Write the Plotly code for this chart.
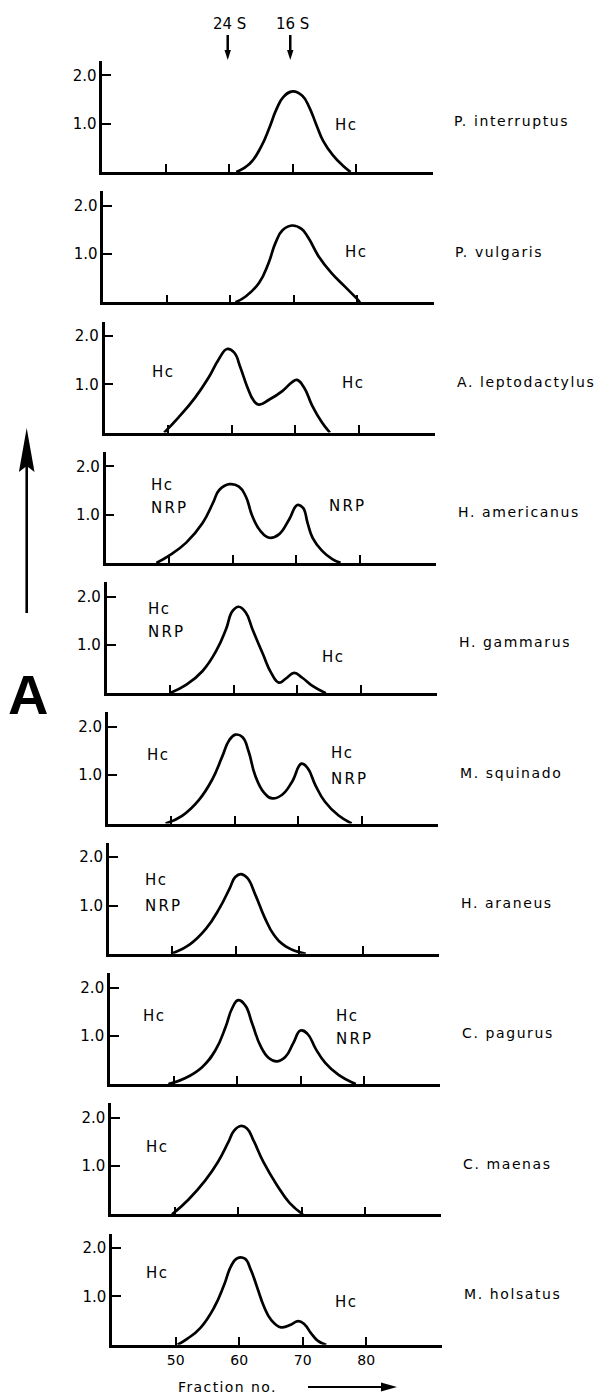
import plotly.graph_objects as go

# ---------------- data ----------------
species = ["P. interruptus", "P. vulgaris", "A. leptodactylus", "H. americanus",
           "H. gammarus", "M. squinado", "H. araneus", "C. pagurus",
           "C. maenas", "M. holsatus"]

frac_p_interruptus = [61.1, 63.2, 65.0, 66.3, 67.4, 68.5, 70.0, 71.5, 72.6, 73.7, 74.8, 76.3, 77.9, 79.1]
abs_p_interruptus = [0, 0.17, 0.52, 0.91, 1.29, 1.55, 1.67, 1.58, 1.34, 0.98, 0.64, 0.35, 0.13, 0]

frac_p_vulgaris = [60.8, 62.4, 64.5, 66.0, 67.1, 68.2, 69.7, 71.2, 72.3, 73.9, 75.9, 78.0, 79.8, 80.4]
abs_p_vulgaris = [0, 0.12, 0.40, 0.81, 1.23, 1.49, 1.59, 1.52, 1.33, 0.95, 0.61, 0.33, 0.09, 0]

frac_a_leptodactylus = [49.4, 51.7, 54.3, 56.4, 58.0, 59.3, 60.4, 61.4, 62.5, 63.5, 64.3, 65.9, 68.0,
                        69.5, 70.3, 71.4, 72.7, 74.2, 75.5]
abs_a_leptodactylus = [0, 0.32, 0.73, 1.14, 1.52, 1.73, 1.66, 1.35, 0.94, 0.66, 0.58, 0.68, 0.86,
                       1.04, 1.09, 0.94, 0.56, 0.22, 0]

frac_h_americanus = [48.0, 50.0, 52.7, 55.3, 56.9, 57.9, 59.5, 61.0, 62.1, 63.1, 64.4, 65.8, 67.3,
                     68.9, 70.2, 71.1, 71.8, 72.6, 74.1, 75.7, 77.0]
abs_h_americanus = [0, 0.15, 0.42, 0.83, 1.24, 1.51, 1.63, 1.58, 1.37, 0.97, 0.66, 0.52, 0.59,
                    0.90, 1.20, 1.14, 0.83, 0.52, 0.25, 0.08, 0]

frac_h_gammarus = [49.9, 52.5, 55.1, 57.3, 58.8, 59.8, 60.8, 61.9, 63.0, 64.6, 65.9, 67.1, 68.2,
                   69.5, 70.8, 72.4, 74.5]
abs_h_gammarus = [0, 0.17, 0.46, 0.89, 1.33, 1.70, 1.79, 1.67, 1.31, 0.81, 0.42, 0.22, 0.30,
                  0.42, 0.32, 0.15, 0]

frac_m_squinado = [49.1, 51.7, 54.3, 56.4, 58.0, 59.1, 60.1, 61.2, 62.2, 63.2, 64.6, 65.9, 67.4,
                   69.0, 70.5, 71.5, 72.7, 74.2, 76.3, 78.4]
abs_m_squinado = [0, 0.16, 0.48, 0.90, 1.38, 1.72, 1.84, 1.79, 1.48, 1.00, 0.64, 0.52, 0.59,
                  0.86, 1.24, 1.14, 0.79, 0.45, 0.17, 0]

frac_h_araneus = [49.8, 52.7, 55.3, 57.4, 59.0, 59.9, 60.8, 61.8, 63.1, 64.5, 66.0, 67.9, 71.0]
abs_h_araneus = [0, 0.19, 0.52, 0.94, 1.35, 1.59, 1.65, 1.57, 1.21, 0.76, 0.39, 0.15, 0]

frac_c_pagurus = [49.2, 51.8, 54.5, 56.6, 58.2, 59.2, 60.2, 61.3, 62.4, 63.7, 65.0, 66.2, 67.6,
                  68.9, 70.0, 71.1, 72.4, 73.9, 76.0, 78.7]
abs_c_pagurus = [0, 0.12, 0.35, 0.70, 1.18, 1.56, 1.74, 1.63, 1.25, 0.79, 0.54, 0.47, 0.56,
                 0.86, 1.11, 1.04, 0.73, 0.44, 0.19, 0]

frac_c_maenas = [49.6, 52.2, 54.8, 56.8, 58.4, 59.4, 60.4, 61.4, 62.5, 64.0, 66.1, 68.1, 70.2]
abs_c_maenas = [0, 0.31, 0.70, 1.08, 1.48, 1.74, 1.83, 1.78, 1.51, 1.08, 0.61, 0.24, 0]

frac_m_holsatus = [50.3, 51.8, 53.9, 56.05, 57.6, 58.7, 59.7, 60.9, 61.8, 62.9, 63.9, 65.0, 66.6,
                   68.2, 69.3, 70.3, 71.3, 72.4, 73.7]
abs_m_holsatus = [0, 0.12, 0.35, 0.77, 1.23, 1.62, 1.79, 1.78, 1.56, 1.16, 0.79, 0.52, 0.36,
                  0.42, 0.49, 0.42, 0.24, 0.08, 0]

# peak labels per panel: (text, fraction of left edge, absorbance of centre)
peak_labels = [
    [("Hc", 76.4, 0.97)],
    [("Hc", 77.7, 1.05)],
    [("Hc", 47.1, 1.25), ("Hc", 77.1, 1.02)],
    [("Hc", 46.9, 1.62), ("NRP", 46.9, 1.14), ("NRP", 74.9, 1.17)],
    [("Hc", 46.2, 1.74), ("NRP", 46.2, 1.26), ("Hc", 73.6, 0.75)],
    [("Hc", 45.8, 1.41), ("Hc", 74.9, 1.45), ("NRP", 74.9, 0.93)],
    [("Hc", 45.4, 1.52), ("NRP", 45.4, 1.00)],
    [("Hc", 44.9, 1.42), ("Hc", 75.2, 1.42), ("NRP", 75.2, 0.94)],
    [("Hc", 45.2, 1.39)],
    [("Hc", 45.0, 1.49), ("Hc", 74.75, 0.88)],
]

x_tick_vals = [50, 60, 70, 80]
x_tick_text = ["50", "60", "70", "80"]
y_tick_vals = [1.0, 2.0]
y_tick_text = ["1.0", "2.0"]

marker_names = ["24 S", "16 S"]
marker_fracs = [59.75, 69.6]

series = [
    (frac_p_interruptus, abs_p_interruptus),
    (frac_p_vulgaris, abs_p_vulgaris),
    (frac_a_leptodactylus, abs_a_leptodactylus),
    (frac_h_americanus, abs_h_americanus),
    (frac_h_gammarus, abs_h_gammarus),
    (frac_m_squinado, abs_m_squinado),
    (frac_h_araneus, abs_h_araneus),
    (frac_c_pagurus, abs_c_pagurus),
    (frac_c_maenas, abs_c_maenas),
    (frac_m_holsatus, abs_m_holsatus),
]

# ---------------- layout geometry (page pixels) ----------------
PAGE_W, PAGE_H = 608, 1396
OFF = 8                      # default body margin of the html page
W, H = PAGE_W - OFF, PAGE_H - OFF
X_MIN, X_MAX = 40, 92
Y_MAX = 2.3
PX_PER_FRAC = 6.35
UNIT = 48.3
SPECIES_OFFSET = 350         # px from the y axis to the species name
FONT = "DejaVu Sans"
INK = "#000000"


def px(x):
    return (x - OFF) / W


def py(y):
    return 1 - (y - OFF) / H


def spaced(text, sp):
    return f'<span style="letter-spacing:{sp}px">{text}</span>'


fig = go.Figure()
annotations = []
shapes = []

for i, (xs, ys) in enumerate(series):
    left = 102.3 + 1.1 * i
    base = 172.0 + 130.3 * i
    right = left + (X_MAX - X_MIN) * PX_PER_FRAC
    top = base - Y_MAX * UNIT
    n = i + 1
    xname = "x" if n == 1 else f"x{n}"
    yname = "y" if n == 1 else f"y{n}"
    xkey = "xaxis" if n == 1 else f"xaxis{n}"
    ykey = "yaxis" if n == 1 else f"yaxis{n}"

    fig.add_trace(go.Scatter(
        x=xs, y=ys, mode="lines", xaxis=xname, yaxis=yname,
        line=dict(color=INK, width=2.7, shape="spline", smoothing=1.3),
        showlegend=False, hoverinfo="skip", name=species[i]))

    fig.layout[xkey] = dict(
        domain=[px(left), px(right)], range=[X_MIN, X_MAX], anchor=yname,
        showline=True, linewidth=2.6, linecolor=INK, mirror=False,
        ticks="inside", ticklen=8, tickwidth=2, tickcolor=INK,
        tickvals=x_tick_vals, ticktext=x_tick_text,
        showticklabels=(n == 10), ticklabelstandoff=1,
        tickfont=dict(family=FONT, size=14, color=INK),
        showgrid=False, zeroline=False, fixedrange=True)
    fig.layout[ykey] = dict(
        domain=[py(base), py(top)], range=[0, Y_MAX], anchor=xname,
        showline=True, linewidth=2.6, linecolor=INK,
        ticks="inside", ticklen=9, tickwidth=2, tickcolor=INK,
        tickvals=y_tick_vals, ticktext=y_tick_text,
        tickfont=dict(family=FONT, size=15, color=INK),
        showgrid=False, zeroline=False, fixedrange=True)

    # species name at right (paper coords; outside the axis range)
    annotations.append(dict(
        xref="paper", yref=yname, x=px(left + SPECIES_OFFSET), y=1.05,
        xanchor="left", yanchor="middle",
        text=spaced(species[i], 1.6), showarrow=False,
        font=dict(family=FONT, size=14, color=INK)))

    # peak labels
    for txt, fx, fy in peak_labels[i]:
        annotations.append(dict(
            xref=xname, yref=yname, x=fx, y=fy, xanchor="left", yanchor="middle",
            text=spaced(txt, 1.5 if txt == "Hc" else 2.2), showarrow=False,
            font=dict(family=FONT, size=15, color=INK)))

# sedimentation markers above the first panel
for name, fx in zip(marker_names, marker_fracs):
    xpx = 102.3 + (fx - X_MIN) * PX_PER_FRAC
    annotations.append(dict(
        xref="paper", yref="paper", x=px(xpx + 2), y=py(23.5), xanchor="center", yanchor="middle",
        text=name, showarrow=False, font=dict(family=FONT, size=15, color=INK)))
    shapes.append(dict(type="line", xref="paper", yref="paper", x0=px(xpx), x1=px(xpx),
                       y0=py(35), y1=py(51), line=dict(color=INK, width=2.5)))
    shapes.append(dict(type="path", xref="paper", yref="paper",
                       path=(f"M {px(xpx - 3.2)},{py(50)} L {px(xpx + 3.2)},{py(50)} "
                             f"L {px(xpx)},{py(60)} Z"),
                       line=dict(width=0), fillcolor=INK))

# x-axis title with arrow under the last panel
annotations.append(dict(
    xref="paper", yref="paper", x=px(176), y=py(1387), xanchor="left", yanchor="middle",
    text=spaced("Fraction no.", 1.4), showarrow=False,
    font=dict(family=FONT, size=14, color=INK)))
shapes.append(dict(type="line", xref="paper", yref="paper", x0=px(308), x1=px(384),
                   y0=py(1387), y1=py(1387), line=dict(color=INK, width=2.2)))
shapes.append(dict(type="path", xref="paper", yref="paper",
                   path=f"M {px(381)},{py(1382.5)} L {px(397)},{py(1387)} L {px(381)},{py(1391.5)} Z",
                   line=dict(width=0), fillcolor=INK))

# big vertical arrow and panel letter at left
shapes.append(dict(type="line", xref="paper", yref="paper", x0=px(26.7), x1=px(26.7),
                   y0=py(613), y1=py(465), line=dict(color=INK, width=2.6)))
shapes.append(dict(type="path", xref="paper", yref="paper",
                   path=(f"M {px(26.7)},{py(428)} L {px(34.5)},{py(472)} L {px(26.7)},{py(466)} "
                         f"L {px(18.9)},{py(472)} Z"),
                   line=dict(width=0), fillcolor=INK))
annotations.append(dict(
    xref="paper", yref="paper", x=px(28), y=py(694), xanchor="center", yanchor="middle",
    text="<b>A</b>", showarrow=False,
    font=dict(family="Liberation Sans", size=56, color=INK)))

fig.update_layout(
    width=W, height=H, margin=dict(l=0, r=0, t=0, b=0),
    paper_bgcolor="white", plot_bgcolor="white",
    annotations=annotations, shapes=shapes, showlegend=False)

fig.write_html("out.html")
